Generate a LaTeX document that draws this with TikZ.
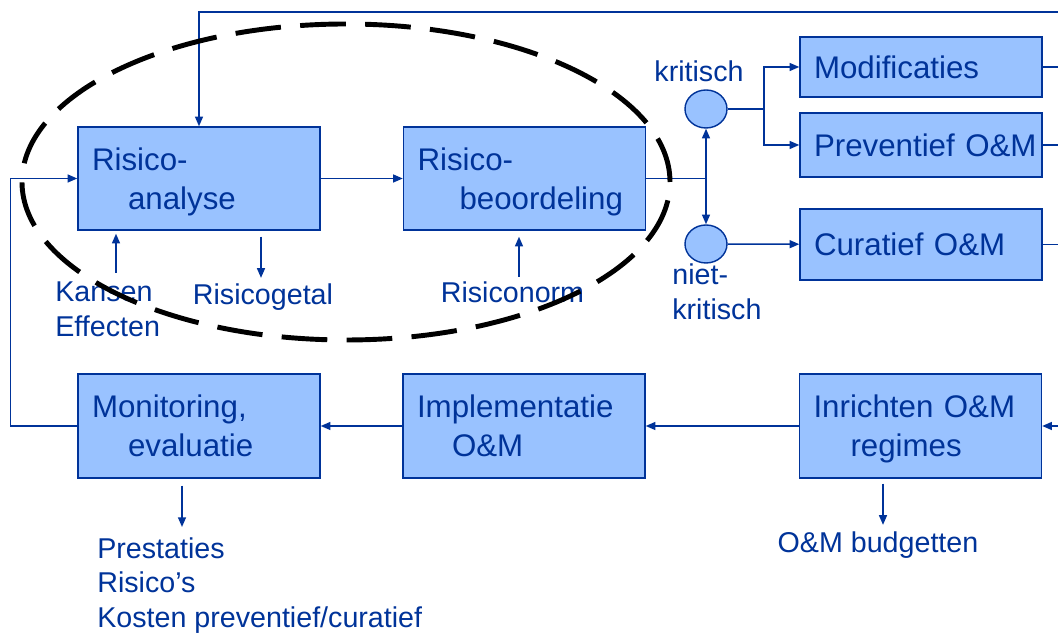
\documentclass[tikz,border=0pt]{standalone}
\usepackage{fontspec}
\setmainfont{Liberation Sans}
\usetikzlibrary{arrows.meta,shapes.geometric}
\definecolor{donker}{RGB}{0,51,153}
\definecolor{licht}{RGB}{153,194,255}

\begin{document}
\begin{tikzpicture}[>={Triangle[length=5.5pt,width=4.5pt]},
  blok/.style={draw=donker,fill=licht,line width=0.8pt,text=donker,inner xsep=0.28cm,
    text width=4.28cm,align=left,font=\fontsize{17.8}{22.2}\selectfont},
  bol/.style={ellipse,draw=donker,fill=licht,line width=0.8pt,minimum width=0.84cm,
    minimum height=0.76cm,inner sep=0pt},
  lab/.style={text=donker,inner sep=0pt,font=\fontsize{16.3}{19.8}\selectfont},
  lijn/.style={draw=donker,line width=0.9pt}]
  \useasboundingbox (0,0) rectangle (21.16,12.68);
  \node[blok,minimum height=2.06cm] (ana) at (3.98,9.11) {Risico-\\\hspace*{0.72cm}\smash{analyse}};
  \node[blok,minimum height=2.06cm] (beo) at (10.49,9.11) {Risico-\\\hspace*{0.84cm}\smash{beoordeling}};
  \node[blok,minimum height=1.2cm] (mod) at (18.42,11.34) {Modificaties};
  \node[blok,minimum height=1.28cm] (prev) at (18.42,9.78) {Preventief~O\&M};
  \node[blok,minimum height=1.42cm] (cur) at (18.42,7.79) {Curatief~O\&M};
  \node[blok,minimum height=2.08cm] (mon) at (3.98,4.16) {Monitoring,\\\hspace*{0.72cm}evaluatie};
  \node[blok,minimum height=2.08cm] (imp) at (10.48,4.16) {Implementatie\\\hspace*{0.7cm}O\&M};
  \node[blok,minimum height=2.08cm] (inr) at (18.41,4.16) {Inrichten~O\&M\\\hspace*{0.74cm}\smash{regimes}};
  \node[bol] (krit) at (14.12,10.5) {};
  \node[bol] (niet) at (14.12,7.8) {};
  \node[lab,anchor=base] (kritl) at (13.98,11.04) {kritisch};
  \node[lab,anchor=west,align=left] (nietl) at (13.44,6.85) {niet-\\kritisch};
  \node[lab,anchor=west,align=left] (kans) at (1.1,6.49) {Kansen\\Effecten};
  \node[lab,anchor=base] (getal) at (5.26,6.58) {Risicogetal};
  \node[lab,anchor=base] (norm) at (10.25,6.62) {Risiconorm};
  \node[lab,anchor=west,align=left] (prest) at (1.94,0.97) {Prestaties\\Risico’s\\Kosten preventief/curatief};
  \node[lab,anchor=base] (budg) at (17.56,1.62) {O\&M budgetten};
  \coordinate (rt) at (21.16,12.44);
  \coordinate (re) at (21.16,0);
  \coordinate (spl) at (beo.east -| krit.south);
  \draw[lijn,->] (rt) -| (ana.north);
  \draw[lijn,->] (mon.west) -- ++(-1.34,0) |- (ana.west);
  \draw[lijn,->] (ana) -- (beo);
  \draw[lijn] (beo.east) -- (spl);
  \draw[lijn,->] (spl) -- (krit.south);
  \draw[lijn,->] (spl) -- (niet.north);
  \draw[lijn,->] (krit.east) -- ++(0.72,0) |- (mod.west);
  \draw[lijn,->] (krit.east) -- ++(0.72,0) |- (prev.west);
  \draw[lijn,->] (niet) -- (cur);
  \draw[lijn] (mod.east) -- (mod.east -| re);
  \draw[lijn] (prev.east) -- (prev.east -| re);
  \draw[lijn] (cur.east) -- (cur.east -| re);
  \draw[lijn,<-] (inr.east) -- (inr.east -| re);
  \draw[lijn,->] (inr) -- (imp);
  \draw[lijn,->] (imp) -- (mon);
  \draw[lijn,->,shorten <=0.18cm,shorten >=0.06cm] (kans.north -| 2.32,0) -- (ana.south -| 2.32,0);
  \draw[lijn,->,shorten <=0.12cm,shorten >=0.12cm] (ana.south -| 5.22,0) -- (getal.north -| 5.22,0);
  \draw[lijn,->,shorten <=0.1cm,shorten >=0.12cm] (norm.north -| 10.38,0) -- (beo.south -| 10.38,0);
  \draw[lijn,->,shorten <=0.14cm,shorten >=0.2cm] (mon.south -| 3.64,0) -- (prest.north -| 3.64,0);
  \draw[lijn,->,shorten <=0.1cm,shorten >=0.14cm] (inr.south -| 17.66,0) -- (budg.north -| 17.66,0);
  \draw[line width=2.8pt,dash pattern=on 26pt off 11pt] (6.92,9.04) ellipse [x radius=6.48cm,y radius=3.16cm];
\end{tikzpicture}
\end{document}
